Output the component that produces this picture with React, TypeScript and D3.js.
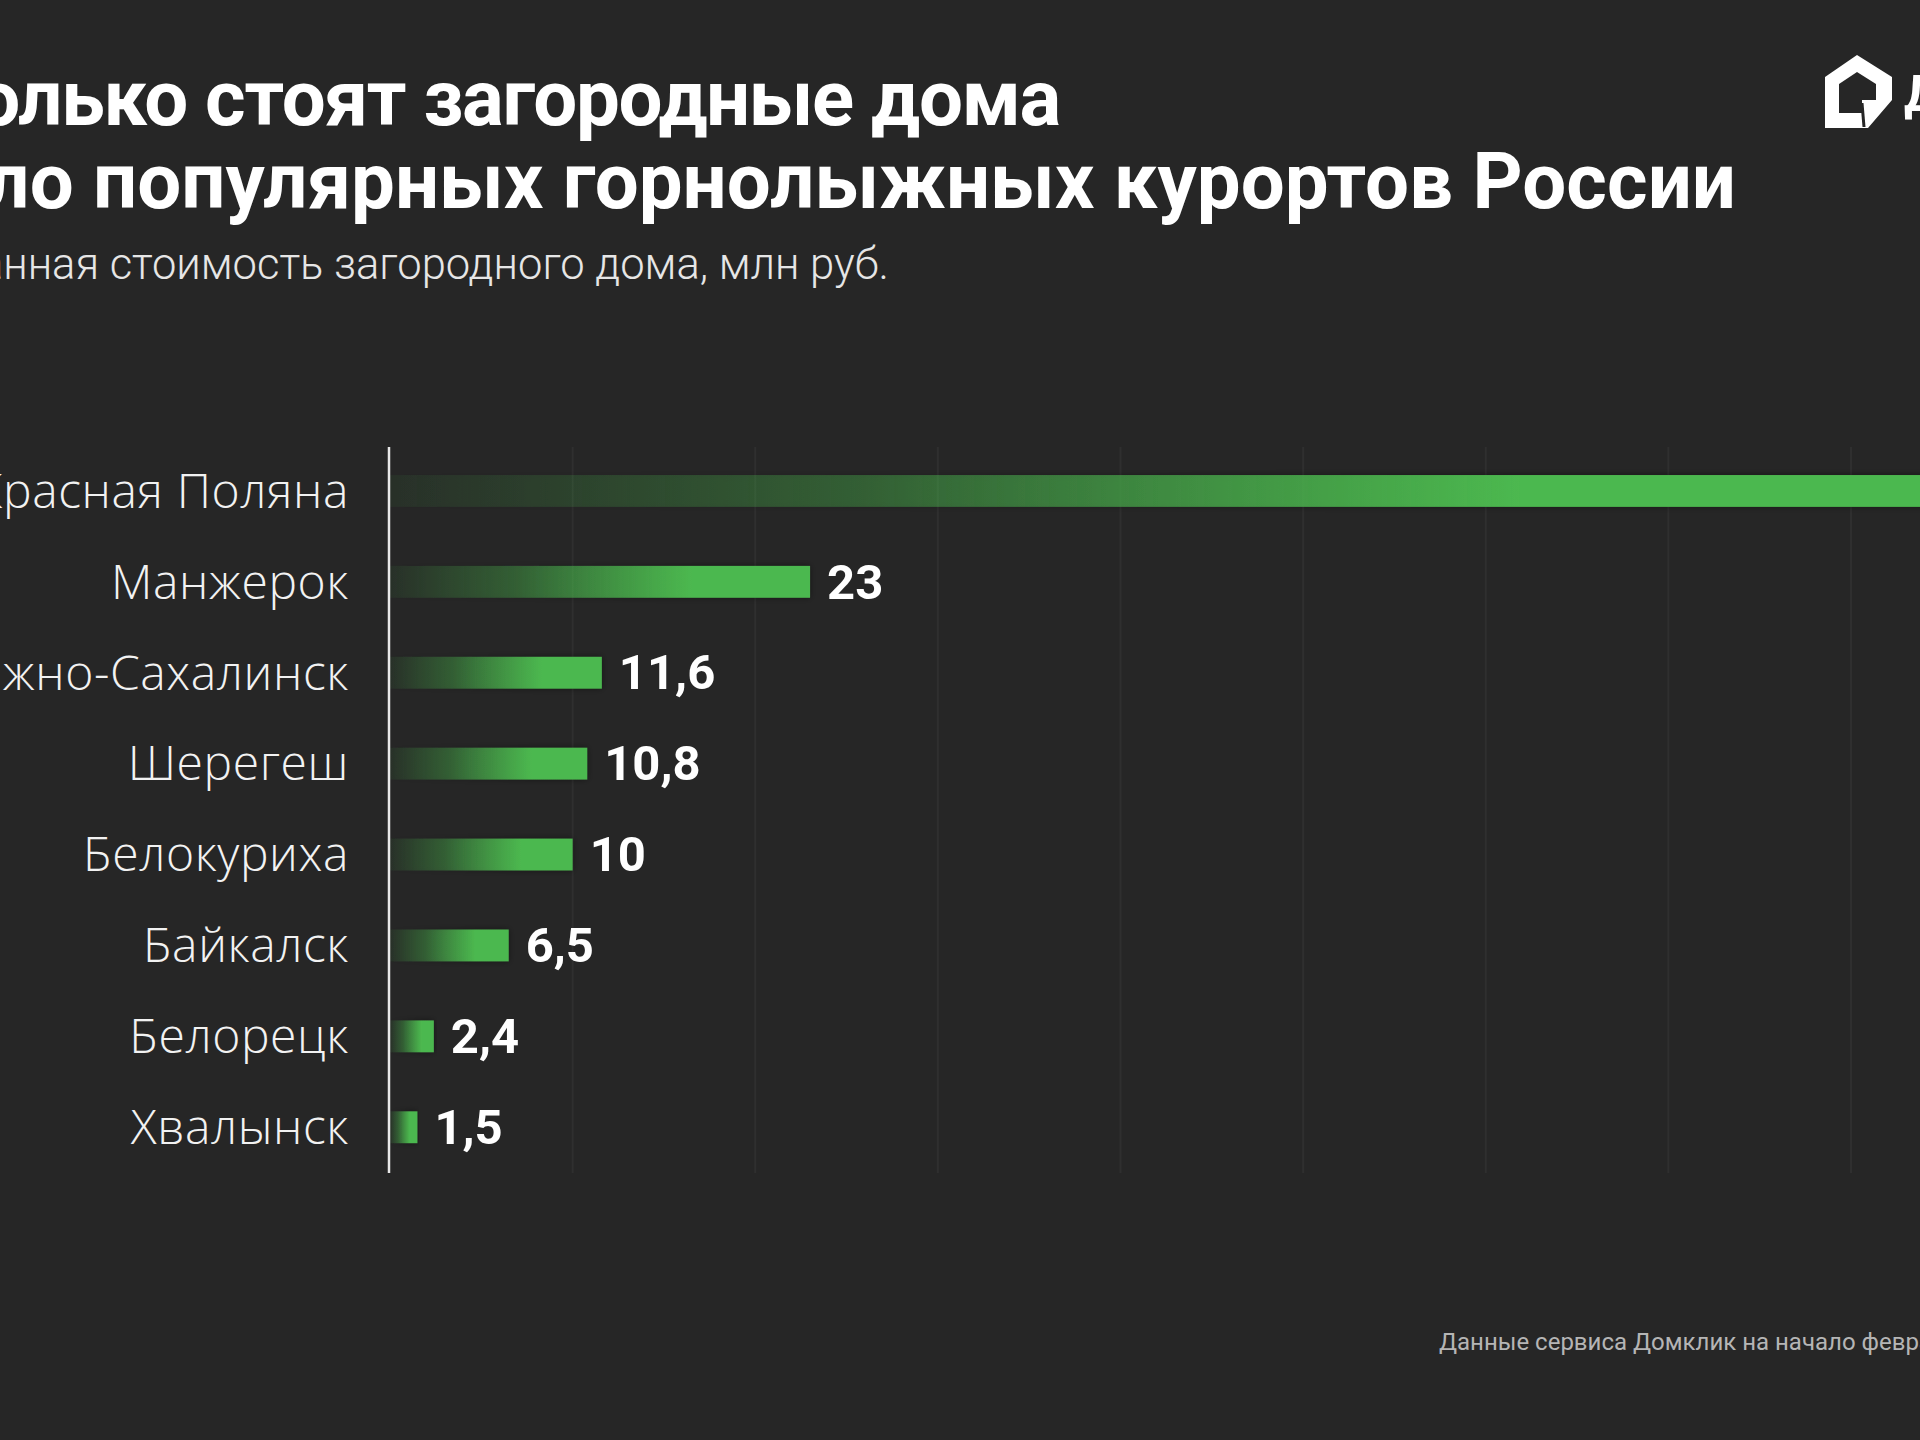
import React from "react";
import * as d3 from "d3";

const categories = [
  "Красная Поляна",
  "Манжерок",
  "Южно-Сахалинск",
  "Шерегеш",
  "Белокуриха",
  "Байкалск",
  "Белорецк",
  "Хвалынск",
];
const values = [86, 23, 11.6, 10.8, 10, 6.5, 2.4, 1.5];
const gridTicks = [10, 20, 30, 40, 50, 60, 70, 80];

const titleLines = [
  "Сколько стоят загородные дома",
  "около популярных горнолыжных курортов России",
];
const subtitle = "Медианная стоимость загородного дома, млн руб.";
const footnote = "Данные сервиса Домклик на начало февраля 2024 года";
const brand = "ДомКлик";

const W = 1920;
const H = 1440;
const BG = "#262626";
const GREEN = "#4cb84f";

export default function App() {
  const x = d3.scaleLinear().domain([0, 80]).range([390, 1851]);
  const y = d3
    .scaleBand<string>()
    .domain(categories)
    .range([445.5, 1172.7])
    .paddingInner(0.65)
    .paddingOuter(0.325);
  const fmt = (v: number) => String(v).replace(".", ",");

  return (
    <div style={{ position: "absolute", left: 0, top: 0 }}>
      <svg width={W} height={H} style={{ display: "block" }}>
        <defs>
          <linearGradient id="barGrad" x1="0" x2="1" y1="0" y2="0">
            <stop offset="0" stopColor={GREEN} stopOpacity={0.06} />
            <stop offset="0.3" stopColor={GREEN} stopOpacity={0.35} />
            <stop offset="0.72" stopColor={GREEN} stopOpacity={1} />
            <stop offset="1" stopColor={GREEN} stopOpacity={1} />
          </linearGradient>
          <filter id="shadow" x="-5%" y="-60%" width="110%" height="220%">
            <feDropShadow dx="0" dy="0" stdDeviation="3" floodColor="#000000" floodOpacity="0.45" />
          </filter>
        </defs>
        <rect width={W} height={H} fill={BG} />

        {/* title */}
        <text
          x={1060}
          y={125}
          textAnchor="end"
          fill="#ffffff"
          fontFamily="Roboto, sans-serif"
          fontWeight={700}
          fontSize={78}
          letterSpacing={-1.3}
        >
          {titleLines[0]}
        </text>
        <text
          x={1736}
          y={208}
          textAnchor="end"
          fill="#ffffff"
          fontFamily="Roboto, sans-serif"
          fontWeight={700}
          fontSize={78}
        >
          {titleLines[1]}
        </text>
        <text
          x={889}
          y={279}
          textAnchor="end"
          fill="#e6e6e6"
          fontFamily="Roboto, sans-serif"
          fontWeight={300}
          fontSize={43.5}
        >
          {subtitle}
        </text>

        {/* logo */}
        <path
          d="M1857,55 L1892,77 L1892,100 L1868,128 L1825,128 L1825,77 Z M1857,72 L1839,84 L1839,113 L1862,113 L1862,100 L1876,100 L1876,84 Z"
          fill="#ffffff"
          fillRule="evenodd"
        />
        <line x1={1862} y1={103} x2={1864} y2={127} stroke={BG} strokeWidth={3} />
        <text
          x={1904}
          y={111}
          fill="#ffffff"
          fontFamily="Roboto, sans-serif"
          fontWeight={700}
          fontSize={50}
        >
          {brand}
        </text>

        {/* gridlines */}
        {gridTicks.map((t) => (
          <line
            key={t}
            x1={x(t)}
            x2={x(t)}
            y1={447}
            y2={1173}
            stroke="#2f2f2f"
            strokeWidth={2}
          />
        ))}

        {/* bars */}
        {categories.map((c, i) => {
          const yy = y(c) as number;
          const bw = y.bandwidth();
          return (
            <g key={c}>
              <rect
                x={x(0)}
                y={yy}
                width={x(values[i]) - x(0)}
                height={bw}
                fill="url(#barGrad)"
                filter="url(#shadow)"
              />
              <text
                x={349}
                y={yy + bw / 2}
                dy="0.35em"
                textAnchor="end"
                fill="#f2f2f2"
                fontFamily="'Open Sans', sans-serif"
                fontWeight={300}
                fontSize={48}
                letterSpacing={0.6}
              >
                {c}
              </text>
              <text
                x={x(values[i]) + 17}
                y={yy + bw / 2}
                dy="0.34em"
                fill="#ffffff"
                fontFamily="Roboto, sans-serif"
                fontWeight={700}
                fontSize={49}
              >
                {fmt(values[i])}
              </text>
            </g>
          );
        })}

        {/* axis line */}
        <line x1={389} x2={389} y1={447} y2={1173} stroke="#e8e8e8" strokeWidth={2.5} />

        {/* footnote */}
        <text
          x={1439}
          y={1350}
          fill="#b5b5b5"
          fontFamily="Roboto, sans-serif"
          fontWeight={400}
          fontSize={24}
        >
          {footnote}
        </text>
      </svg>
    </div>
  );
}
